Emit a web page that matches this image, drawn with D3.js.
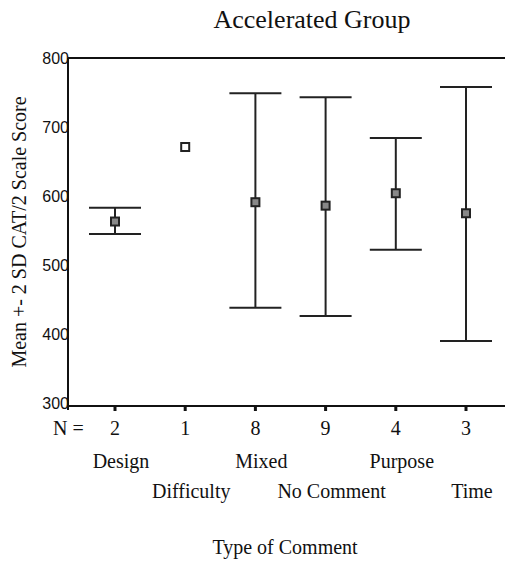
<!DOCTYPE html>
<html>
<head>
<meta charset="utf-8">
<script src="https://cdn.jsdelivr.net/npm/d3@7"></script>
<style>
  body { margin: 0; background: #fff; }
  text { fill: #111; }
</style>
</head>
<body>
<svg width="505" height="564"></svg>
<script>
// data
var categories = ["Design", "Difficulty", "Mixed", "No Comment", "Purpose", "Time"];
var counts = [2, 1, 8, 9, 4, 3];
var means = [563, 671, 591, 586, 604, 575];
var lower = [545, null, 438, 426, 522, 390];
var upper = [583, null, 749, 743, 684, 758];
var yTicks = [300, 400, 500, 600, 700, 800];

var svg = d3.select("svg");
var serif = "'Liberation Serif', 'Times New Roman', serif";
var sans = "'Liberation Sans', Arial, sans-serif";

var x = d3.scalePoint().domain(categories).range([115, 466]);
var y = d3.scaleLinear().domain([300, 800]).range([403, 58]);

var plotL = 68, plotT = 58, plotB = 406, plotR = 505;

// title
svg.append("text")
    .attr("x", 312).attr("y", 28)
    .attr("text-anchor", "middle")
    .style("font-family", serif).style("font-size", "26px")
    .text("Accelerated Group");

// frame
var frame = svg.append("g").attr("stroke", "#111").attr("stroke-width", 2).attr("fill", "none");
frame.append("line").attr("x1", plotL).attr("x2", plotR).attr("y1", plotT).attr("y2", plotT);
frame.append("line").attr("x1", plotL).attr("x2", plotL).attr("y1", plotT).attr("y2", plotB + 4);
frame.append("line").attr("x1", plotL - 1).attr("x2", plotR).attr("y1", plotB).attr("y2", plotB);

// y tick labels
svg.append("g").selectAll("text")
    .data(yTicks)
    .enter()
    .append("text")
    .attr("x", plotL + 1)
    .attr("y", function (d) { return y(d); })
    .attr("dy", "0.36em")
    .attr("text-anchor", "end")
    .style("font-family", sans).style("font-size", "16px")
    .text(function (d) { return d; });

// x ticks
svg.append("g").selectAll("line")
    .data(categories)
    .enter()
    .append("line")
    .attr("x1", function (d) { return x(d); })
    .attr("x2", function (d) { return x(d); })
    .attr("y1", plotB).attr("y2", plotB + 5)
    .attr("stroke", "#111").attr("stroke-width", 3);

// N row
svg.append("text")
    .attr("x", 53).attr("y", 435)
    .style("font-family", serif).style("font-size", "20px")
    .text("N =");
svg.append("g").selectAll("text")
    .data(counts)
    .enter()
    .append("text")
    .attr("x", function (d, i) { return x(categories[i]); })
    .attr("y", 435)
    .attr("text-anchor", "middle")
    .style("font-family", serif).style("font-size", "20px")
    .text(function (d) { return d; });

// category labels, staggered
svg.append("g").selectAll("text")
    .data(categories)
    .enter()
    .append("text")
    .attr("x", function (d) { return x(d) + 6; })
    .attr("y", function (d, i) { return i % 2 == 0 ? 468 : 498; })
    .attr("text-anchor", "middle")
    .style("font-family", serif).style("font-size", "20px")
    .text(function (d) { return d; });

// axis titles
svg.append("text")
    .attr("x", 285).attr("y", 554)
    .attr("text-anchor", "middle")
    .style("font-family", serif).style("font-size", "20px")
    .text("Type of Comment");

svg.append("text")
    .attr("transform", "translate(26,232) rotate(-90)")
    .attr("text-anchor", "middle")
    .style("font-family", serif).style("font-size", "20px")
    .text("Mean +- 2 SD CAT/2 Scale Score");

// error bars
var capW = 26;
var bars = svg.append("g").attr("stroke", "#222").attr("stroke-width", 2);
categories.forEach(function (c, i) {
    if (lower[i] == null) return;
    bars.append("line")
        .attr("x1", x(c)).attr("x2", x(c))
        .attr("y1", y(upper[i])).attr("y2", y(lower[i]));
    bars.append("line")
        .attr("x1", x(c) - capW).attr("x2", x(c) + capW)
        .attr("y1", y(upper[i])).attr("y2", y(upper[i]));
    bars.append("line")
        .attr("x1", x(c) - capW).attr("x2", x(c) + capW)
        .attr("y1", y(lower[i])).attr("y2", y(lower[i]));
});

// mean markers
svg.append("g").selectAll("rect")
    .data(means)
    .enter()
    .append("rect")
    .attr("x", function (d, i) { return x(categories[i]) - 4; })
    .attr("y", function (d) { return y(d) - 4; })
    .attr("width", 8).attr("height", 8)
    .attr("fill", function (d, i) { return lower[i] == null ? "#fff" : "#888"; })
    .attr("stroke", "#222").attr("stroke-width", 2);
</script>
</body>
</html>
